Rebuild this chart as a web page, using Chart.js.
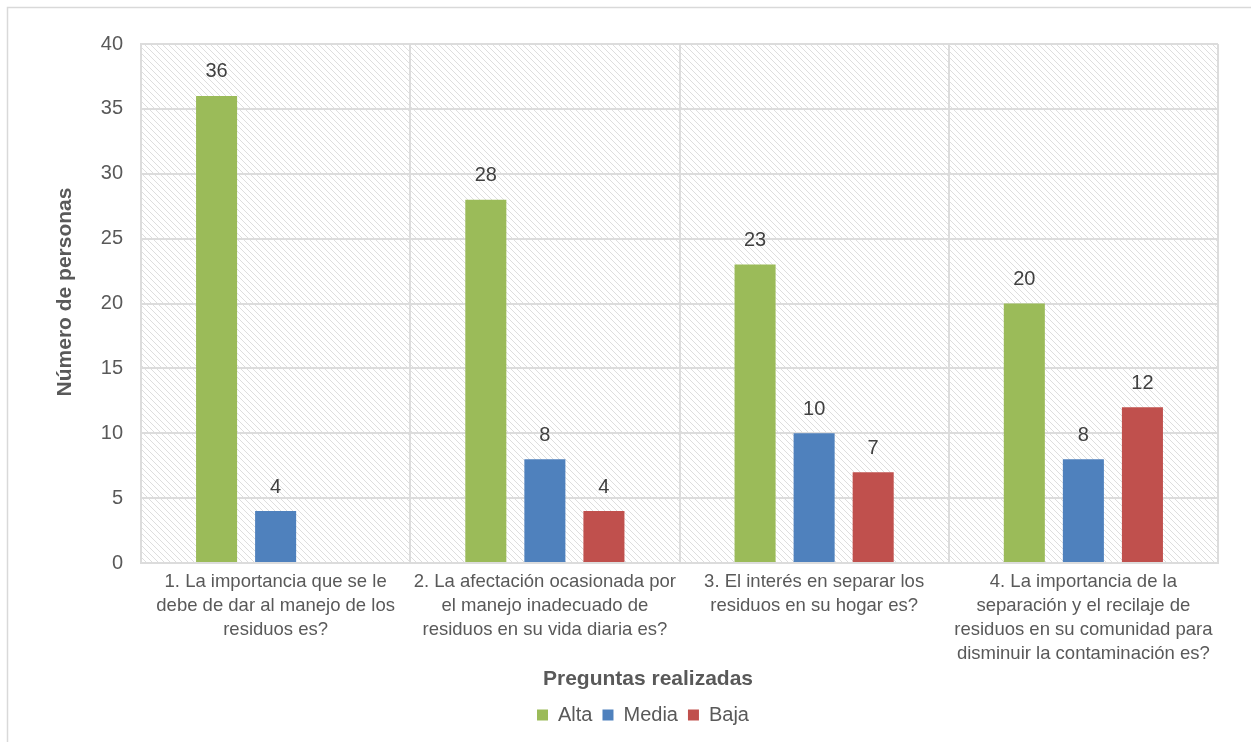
<!DOCTYPE html>
<html>
<head>
<meta charset="utf-8">
<script src="https://cdn.jsdelivr.net/npm/chart.js@4.4.1/dist/chart.umd.min.js"></script>
<style>
html,body{margin:0;padding:0;background:#fff;}
canvas{display:block;}
</style>
</head>
<body>
<canvas id="c" width="1251" height="742"></canvas>
<script>
const categories = [
  ["1. La importancia que se le","debe de dar al manejo de los","residuos es?"],
  ["2. La afectación ocasionada por","el manejo inadecuado de","residuos en su vida diaria es?"],
  ["3. El interés en separar los","residuos en su hogar es?"],
  ["4. La importancia de la","separación y el recilaje de","residuos en su comunidad para","disminuir la contaminación es?"]
];
const seriesNames = ["Alta","Media","Baja"];
const alta = [36, 28, 23, 20];
const media = [4, 8, 10, 8];
const baja = [0, 4, 7, 12];
const yTicks = [0,5,10,15,20,25,30,35,40];
const yTitle = "Número de personas";
const xTitle = "Preguntas realizadas";

const FONT = "'Liberation Sans', Arial, sans-serif";

const hatchPlugin = {
  id: 'hatch',
  beforeDraw(chart) {
    const ctx = chart.ctx;
    ctx.save();
    ctx.strokeStyle = '#d9d9d9';
    ctx.lineWidth = 1.5;
    ctx.strokeRect(7.5, 7.5, 1400, 900);
    const a = chart.chartArea;
    ctx.beginPath();
    ctx.rect(a.left, a.top, a.right - a.left, a.bottom - a.top);
    ctx.clip();
    ctx.strokeStyle = '#dedede';
    ctx.lineWidth = 1;
    const h = a.bottom - a.top;
    for (let x = a.left - h; x < a.right; x += 6) {
      ctx.beginPath();
      ctx.moveTo(x, a.top);
      ctx.lineTo(x + h, a.bottom);
      ctx.stroke();
    }
    ctx.restore();
  },
  afterDraw(chart) {
    const ctx = chart.ctx;
    ctx.save();
    ctx.fillStyle = '#595959';
    ctx.textAlign = 'center';
    ctx.textBaseline = 'middle';
    ctx.font = 'bold 21px ' + FONT;
    ctx.fillText(xTitle, 648, 679);
    ctx.translate(65, 292);
    ctx.rotate(-Math.PI / 2);
    ctx.fillText(yTitle, 0, 0);
    ctx.restore();
  }
};

const labelPlugin = {
  id: 'valueLabels',
  afterDatasetsDraw(chart) {
    const ctx = chart.ctx;
    ctx.save();
    ctx.font = '20px ' + FONT;
    ctx.fillStyle = '#404040';
    ctx.textAlign = 'center';
    ctx.textBaseline = 'middle';
    chart.data.datasets.forEach((ds, di) => {
      const meta = chart.getDatasetMeta(di);
      meta.data.forEach((el, i) => {
        const v = ds.data[i];
        if (!v) return;
        ctx.fillText(String(v), el.x, el.y - 24);
      });
    });
    ctx.restore();
  }
};

new Chart(document.getElementById('c'), {
  type: 'bar',
  data: {
    labels: categories,
    datasets: [
      { label: seriesNames[0], data: alta, backgroundColor: '#9BBB59' },
      { label: seriesNames[1], data: media, backgroundColor: '#4F81BD' },
      { label: seriesNames[2], data: baja, backgroundColor: '#C0504D' }
    ]
  },
  options: {
    responsive: false,
    animation: false,
    devicePixelRatio: 1,
    layout: { padding: { left: 68, right: 33, top: 44, bottom: 7 } },
    datasets: { bar: { categoryPercentage: 0.658, barPercentage: 0.695 } },
    plugins: {
      legend: {
        position: 'bottom',
        labels: {
          font: { family: FONT, size: 20 },
          color: '#595959',
          boxWidth: 11,
          boxHeight: 11,
          padding: 10
        }
      },
      tooltip: { enabled: false }
    },
    scales: {
      x: {
        grid: { color: '#dcdcdc', lineWidth: 2, drawTicks: false, offset: true },
        border: { color: '#dcdcdc', width: 2 },
        ticks: {
          font: { family: FONT, size: 18.5, lineHeight: 1.3 },
          color: '#595959',
          padding: 7,
          maxRotation: 0,
          autoSkip: false
        },
        afterFit(s) { s.height = 132; }
      },
      y: {
        min: 0, max: 40,
        afterBuildTicks(s) { s.ticks = yTicks.map(v => ({ value: v })); },
        grid: { color: '#dcdcdc', lineWidth: 2, drawTicks: false },
        border: { color: '#dcdcdc', width: 2 },
        ticks: {
          font: { family: FONT, size: 20 },
          color: '#595959',
          padding: 18
        },
        afterFit(s) { s.width = 73; }
      }
    }
  },
  plugins: [hatchPlugin, labelPlugin]
});
</script>
</body>
</html>
